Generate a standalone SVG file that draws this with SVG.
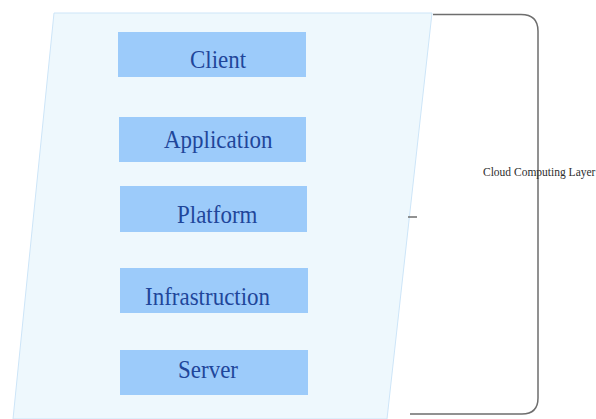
<svg xmlns="http://www.w3.org/2000/svg" width="596" height="419" viewBox="0 0 596 419">
  <style>
    .layer rect { fill: #9ccbfa; }
    .layer text { font-family: "Liberation Serif", "Times New Roman", serif; font-size: 23px; fill: #1f469a; }
    .brace { fill: none; stroke: #6e6e6e; stroke-width: 1.5; }
    .caption { font-family: "Liberation Serif", "Times New Roman", serif; font-size: 11.5px; fill: #2e2e2e; }
  </style>
  <rect width="596" height="419" fill="#ffffff"/>

  <!-- slanted panel behind the stack -->
  <g id="panel">
    <polygon points="54,13 432,13 387,419 13,419" fill="#eef8fd" stroke="#cde5f8" stroke-width="1"/>
  </g>

  <!-- layer boxes; labels are slightly stretched vertically -->
  <g id="client" class="layer">
    <rect x="118" y="32" width="188" height="45"/>
    <text transform="translate(190,68) scale(1,1.12)">Client</text>
  </g>
  <g id="application" class="layer">
    <rect x="119" y="117" width="187" height="45"/>
    <text transform="translate(164,148) scale(1,1.12)">Application</text>
  </g>
  <g id="platform" class="layer">
    <rect x="120" y="186" width="187" height="46"/>
    <text transform="translate(177,223) scale(1,1.12)">Platform</text>
  </g>
  <g id="infrastructure" class="layer">
    <rect x="120" y="268" width="188" height="45"/>
    <text transform="translate(145,305) scale(1,1.12)">Infrastruction</text>
  </g>
  <g id="server" class="layer">
    <rect x="120" y="350" width="188" height="45"/>
    <text transform="translate(178,378) scale(1,1.12)">Server</text>
  </g>

  <!-- bracket grouping all layers -->
  <g id="connectors">
    <path class="brace" d="M433,14.5 H521 Q538,14.5 538,31 V398 Q538,414 522,414 H410"/>
    <path class="brace" d="M408,217 H417"/>
  </g>

  <g id="label">
    <text class="caption" x="483" y="176">Cloud Computing Layer</text>
  </g>
</svg>
